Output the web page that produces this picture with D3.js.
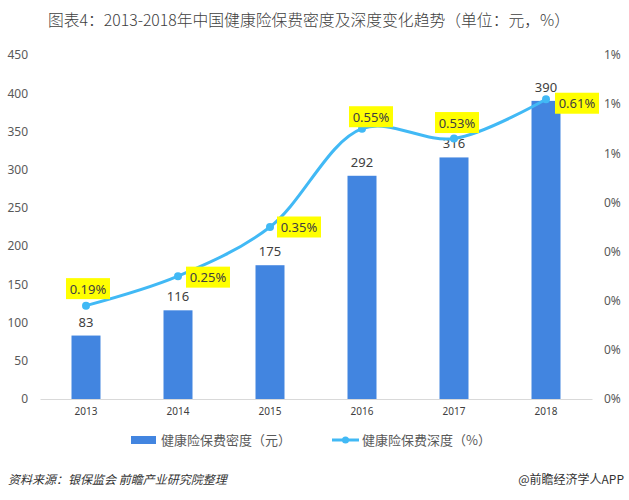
<!DOCTYPE html>
<html><head><meta charset="utf-8">
<script src="https://cdn.jsdelivr.net/npm/d3@7"></script>
<style>
body{margin:0;background:#fff;}
svg{display:block;font-family:"Noto Sans CJK SC","Noto Sans",sans-serif;}
</style></head>
<body><svg id="c" width="629" height="500"></svg>
<script>
const years = ["2013","2014","2015","2016","2017","2018"];
const density = [83,116,175,292,316,390];
const depth = [0.19,0.25,0.35,0.55,0.53,0.61];
const leftTicks = [0,50,100,150,200,250,300,350,400,450];
const rightTicks = [0,0.1,0.2,0.3,0.4,0.5,0.6,0.7];

const svg = d3.select("#c");
const L = 40, R = 592, T = 55, B = 399;
const x = d3.scaleBand().domain(years).range([L,R]).paddingInner(0).paddingOuter(0);
const yL = d3.scaleLinear().domain([0,450]).range([B,T]);
const yR = d3.scaleLinear().domain([0,0.7]).range([B,T]);
const cx = d => x(d)+x.bandwidth()/2;

// title
svg.append("text").attr("x",309).attr("y",26).attr("text-anchor","middle")
  .attr("font-size",15.8).attr("font-weight",300).attr("fill","#404040")
  .text("图表4：2013-2018年中国健康险保费密度及深度变化趋势（单位：元，%）");

// left axis
const gl = svg.append("g").attr("transform",`translate(${L},0)`)
  .call(d3.axisLeft(yL).tickValues(leftTicks).tickSize(0).tickPadding(12));
gl.select(".domain").remove();
gl.selectAll("text").attr("font-size",12).attr("fill","#595959").attr("font-family","'Noto Sans',sans-serif");

// right axis
const gr = svg.append("g").attr("transform",`translate(${R},0)`)
  .call(d3.axisRight(yR).tickValues(rightTicks).tickSize(0).tickPadding(12)
  .tickFormat(d=>Math.round(d+1e-9)+"%"));
gr.select(".domain").remove();
gr.selectAll("text").attr("font-size",12).attr("fill","#595959").attr("font-family","'Noto Sans',sans-serif");

// x axis
const gx = svg.append("g").attr("transform",`translate(0,${B})`)
  .call(d3.axisBottom(x).tickSize(0).tickPadding(9));
gx.select(".domain").attr("stroke","#d9d9d9");
gx.selectAll("text").attr("font-size",10).attr("fill","#404040").attr("font-family","'Noto Sans',sans-serif");

// bars
const bw = 29;
svg.append("g").selectAll("rect").data(years).join("rect")
  .attr("x",d=>cx(d)-bw/2).attr("width",bw)
  .attr("y",(d,i)=>yL(density[i])).attr("height",(d,i)=>B-yL(density[i]))
  .attr("fill","#4285e0");
svg.append("g").selectAll("text").data(years).join("text")
  .attr("x",d=>cx(d)).attr("y",(d,i)=>yL(density[i])-9).attr("text-anchor","middle")
  .attr("font-size",13).attr("fill","#404040").attr("font-family","'Noto Sans',sans-serif")
  .text((d,i)=>density[i]);

// line
const pts = years.map((d,i)=>[cx(d),yR(depth[i])]);
svg.append("path").attr("d",d3.line().curve(d3.curveCatmullRom.alpha(0.5))(pts))
  .attr("fill","none").attr("stroke","#41b9f5").attr("stroke-width",3);
svg.append("g").selectAll("circle").data(pts).join("circle")
  .attr("cx",d=>d[0]).attr("cy",d=>d[1]).attr("r",4).attr("fill","#41b9f5");

// depth labels (box offsets relative to the point: left edge dx, centre dy)
const boxOff = [[-20,-17],[8,1],[7,0],[-13,-12],[-19,-16],[9,4]];
const lg = svg.append("g");
pts.forEach((p,i)=>{
  const txt = depth[i].toFixed(2)+"%";
  const w = 44, h = 21;
  const bx = p[0]+boxOff[i][0], by = p[1]+boxOff[i][1]-h/2;
  lg.append("rect").attr("x",bx).attr("y",by).attr("width",w).attr("height",h).attr("fill","#ffff00");
  lg.append("text").attr("x",bx+w/2).attr("y",by+h/2+5).attr("text-anchor","middle")
    .attr("font-size",13).attr("fill","#404040").attr("font-family","'Noto Sans',sans-serif").text(txt);
});

// legend
const leg = svg.append("g");
leg.append("rect").attr("x",131).attr("y",436).attr("width",25).attr("height",8).attr("fill","#4285e0");
leg.append("text").attr("x",161).attr("y",445).attr("font-size",13).attr("fill","#595959").text("健康险保费密度（元）");
leg.append("line").attr("x1",332).attr("x2",359).attr("y1",440).attr("y2",440).attr("stroke","#41b9f5").attr("stroke-width",3);
leg.append("circle").attr("cx",345.5).attr("cy",440).attr("r",3.5).attr("fill","#41b9f5");
leg.append("text").attr("x",362).attr("y",445).attr("font-size",13).attr("fill","#595959").text("健康险保费深度（%）");

// footer
svg.append("text").attr("x",8).attr("y",484).attr("font-size",12).attr("font-style","italic")
  .attr("fill","#333").text("资料来源：银保监会  前瞻产业研究院整理");
svg.append("text").attr("x",624).attr("y",484).attr("text-anchor","end").attr("font-size",12)
  .attr("fill","#333").text("@前瞻经济学人APP");
</script></body></html>
